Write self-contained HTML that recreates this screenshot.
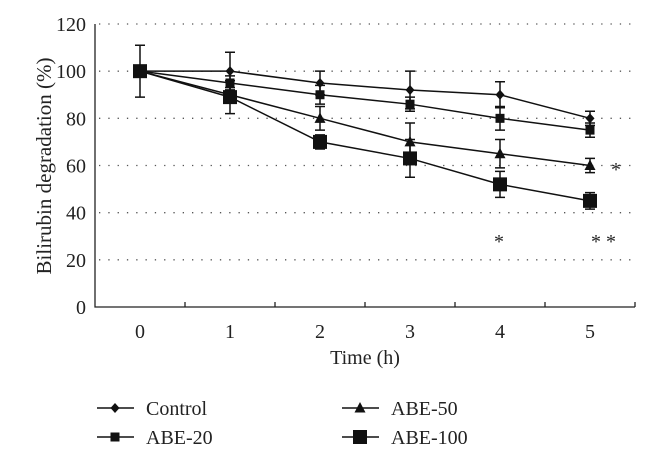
<!DOCTYPE html>
<html><head><meta charset="utf-8"><style>
body{margin:0;background:#fff}
svg{display:block;font-family:"Liberation Serif",serif}
</style></head><body>
<svg id="c" width="650" height="456"></svg>
<script>
const categories=[0,1,2,3,4,5];
const yTicks=[0,20,40,60,80,100,120];
const seriesNames=["Control","ABE-20","ABE-50","ABE-100"];
const controlVals=[100,100,95,92,90,80];
const controlErr=[0,8,5,8,5.5,3];
const abe20Vals=[100,95,90,86,80,75];
const abe20Err=[0,3,4,3,5,3];
const abe50Vals=[100,90,80,70,65,60];
const abe50Err=[0,3,5,8,6,3];
const abe100Vals=[100,89,70,63,52,45];
const abe100Err=[11,7,3,8,5.5,3.5];
const NS="http://www.w3.org/2000/svg";
const svg=document.getElementById('c');
const L=95,R=635,T=24,B=307;
const band=(R-L)/categories.length;
const x=i=>L+band*(i+0.5);
const y=v=>B-(v/120)*(B-T);
function mk(tag,a,parent){const e=document.createElementNS(NS,tag);for(const k in a)e.setAttribute(k,a[k]);(parent||svg).appendChild(e);return e;}
yTicks.forEach(t=>{if(t>0){const g=mk('line',{x1:L+4,x2:R,y1:y(t),y2:y(t),stroke:'#555','stroke-width':1.3,'stroke-dasharray':'1.3 8'});

}
const tl=mk('text',{x:L-9,y:y(t)+7,'text-anchor':'end','font-size':20,fill:'#222'});tl.textContent=t;

});
const ax=mk('path',{d:`M${L},${T} V${B} H${R}`,stroke:'#222','stroke-width':1.3,fill:'none'});


for(let i=1;i<=categories.length;i++){mk('line',{x1:L+band*i,x2:L+band*i,y1:B,y2:B-5,stroke:'#222','stroke-width':1.3});}
categories.forEach((c,i)=>{const t=mk('text',{x:x(i),y:B+31,'text-anchor':'middle','font-size':20,fill:'#222'});t.textContent=c;

});
const xt=mk('text',{x:365,y:364,'text-anchor':'middle','font-size':20,fill:'#222'});xt.textContent='Time (h)';


const yt=mk('text',{x:0,y:0,'text-anchor':'middle','font-size':21,fill:'#222',transform:`translate(51,166) rotate(-90)`});yt.textContent='Bilirubin degradation (%)';


function marker(kind,cx,cy,g){
 if(kind==='diamond')mk('path',{d:`M${cx},${cy-5} L${cx+4.5},${cy} L${cx},${cy+5} L${cx-4.5},${cy}Z`,fill:'#111'},g);
 else if(kind==='sq')mk('rect',{x:cx-4.5,y:cy-4.5,width:9,height:9,fill:'#111'},g);
 else if(kind==='tri')mk('path',{d:`M${cx},${cy-6} L${cx+5.5},${cy+4.5} L${cx-5.5},${cy+4.5}Z`,fill:'#111'},g);
 else mk('rect',{x:cx-7,y:cy-7,width:14,height:14,fill:'#111'},g);
}
const all=[[controlVals,controlErr,'diamond'],[abe20Vals,abe20Err,'sq'],[abe50Vals,abe50Err,'tri'],[abe100Vals,abe100Err,'big']];
all.forEach(([v,e,k],si)=>{
 const g=mk('g',{});
 
 
 mk('polyline',{points:v.map((d,i)=>x(i)+','+y(d)).join(' '),fill:'none',stroke:'#111','stroke-width':1.5},g);
 v.forEach((d,i)=>{if(e[i]>0){const a=y(d+e[i]),b=y(d-e[i]);
  mk('path',{d:`M${x(i)},${a}V${b}M${x(i)-5},${a}H${x(i)+5}M${x(i)-5},${b}H${x(i)+5}`,stroke:'#111','stroke-width':1.5,fill:'none'},g);}
  marker(k,x(i),y(d),g);});
});
[[611,176,'*'],[494,248,'*'],[591,248,'* *']].forEach(([a,b,s],i)=>{const t=mk('text',{x:a,y:b,'font-size':20,fill:'#222'});t.textContent=s;

});
const lg=[[97,408,'diamond'],[97,437,'sq'],[342,408,'tri'],[342,437,'big']];
lg.forEach(([lx,ly,k],i)=>{const g=mk('g',{});


mk('line',{x1:lx,x2:lx+37,y1:ly,y2:ly,stroke:'#111','stroke-width':1.5},g);
marker(k,lx+18,ly,g);
const t=mk('text',{x:lx+49,y:ly+7,'font-size':20,fill:'#222'},g);t.textContent=seriesNames[i];});
</script>
</body></html>
